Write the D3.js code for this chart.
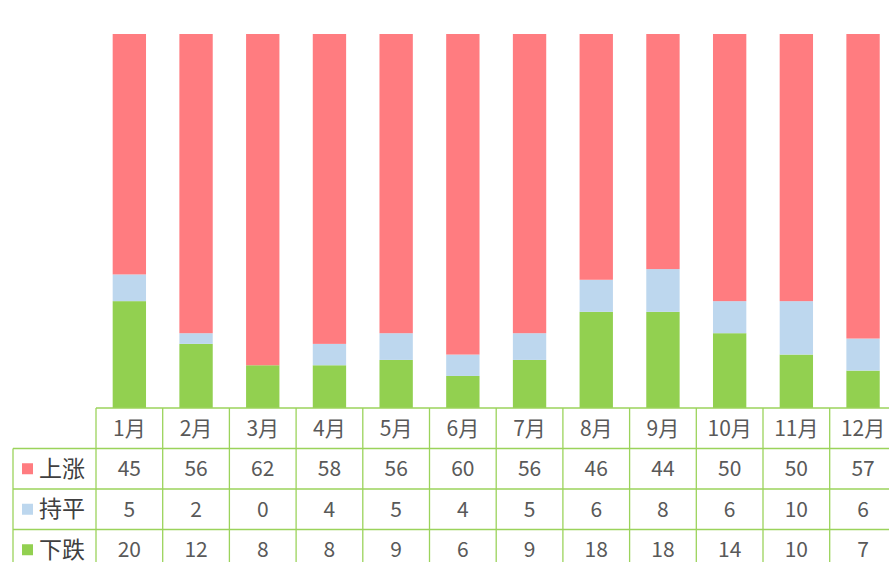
<!DOCTYPE html>
<html>
<head>
<meta charset="utf-8">
<script src="https://cdn.jsdelivr.net/npm/d3@7"></script>
<style>
  html, body { margin: 0; padding: 0; background: #fff; overflow: hidden; }
  svg { display: block; }
  text { font-family: "Noto Sans CJK SC", "Noto Sans", sans-serif; }
</style>
</head>
<body>
<svg id="chart"></svg>
<script>
// data
const months = ['1月','2月','3月','4月','5月','6月','7月','8月','9月','10月','11月','12月'];
const seriesNames = ['上涨', '持平', '下跌'];
const up   = [45, 56, 62, 58, 56, 60, 56, 46, 44, 50, 50, 57];
const flat = [5, 2, 0, 4, 5, 4, 5, 6, 8, 6, 10, 6];
const down = [20, 12, 8, 8, 9, 6, 9, 18, 18, 14, 10, 7];

const colors = {'上涨': '#FF7C80', '持平': '#BDD7EE', '下跌': '#92D050'};
const lineColor = '#9BD35B';

const width = 889, height = 562;
const margin = {top: 34, left: 96, tableTop: 408, legendLeft: 13};
const colW = 66.7;
const rowH = 40.5;

const svg = d3.select('#chart')
    .attr('width', width)
    .attr('height', height);

// build rows for stacking (bottom to top: 下跌, 持平, 上涨)
const table = months.map((m, i) => ({month: m, '上涨': up[i], '持平': flat[i], '下跌': down[i]}));

const stack = d3.stack()
    .keys(['下跌', '持平', '上涨'])
    .offset(d3.stackOffsetExpand);
const layers = stack(table);

const x = d3.scaleBand()
    .domain(months)
    .range([margin.left, margin.left + colW * months.length])
    .paddingInner(0.5)
    .paddingOuter(0.25);

const y = d3.scaleLinear()
    .domain([0, 1])
    .range([margin.tableTop, margin.top]);

// bars
svg.append('g')
  .selectAll('g')
  .data(layers)
  .join('g')
    .attr('fill', d => colors[d.key])
  .selectAll('rect')
  .data(d => d)
  .join('rect')
    .attr('x', d => x(d.data.month))
    .attr('y', d => y(d[1]))
    .attr('width', x.bandwidth())
    .attr('height', d => y(d[0]) - y(d[1]));

// data table
const colLeft = m => x(m) - x.step() * 0.25;
const rowY = d3.scaleBand()
    .domain(['header'].concat(seriesNames))
    .range([margin.tableTop, margin.tableTop + rowH * 4]);

const tbl = svg.append('g').attr('class', 'data-table');
const right = margin.left + colW * months.length;

// horizontal lines
tbl.append('line')
    .attr('x1', margin.left).attr('x2', right)
    .attr('y1', rowY('header')).attr('y2', rowY('header'));
seriesNames.forEach(s => {
  tbl.append('line')
      .attr('x1', margin.legendLeft).attr('x2', right)
      .attr('y1', rowY(s)).attr('y2', rowY(s));
});
// vertical lines
months.forEach(m => {
  tbl.append('line')
      .attr('x1', colLeft(m)).attr('x2', colLeft(m))
      .attr('y1', margin.tableTop).attr('y2', height);
});
tbl.append('line')
    .attr('x1', margin.legendLeft).attr('x2', margin.legendLeft)
    .attr('y1', rowY(seriesNames[0])).attr('y2', height);
tbl.selectAll('line')
    .attr('stroke', lineColor)
    .attr('stroke-width', 1.3);

const fs = 21;

// header labels
tbl.selectAll('text.month')
  .data(months)
  .join('text')
    .attr('class', 'month')
    .attr('x', m => x(m) + x.bandwidth() / 2)
    .attr('y', rowY('header') + rowY.bandwidth() / 2)
    .attr('dy', '0.35em')
    .attr('text-anchor', 'middle')
    .attr('font-size', fs)
    .attr('fill', '#595959')
    .text(m => m);

// series rows
const seriesValues = {'上涨': up, '持平': flat, '下跌': down};
seriesNames.forEach(s => {
  const cy = rowY(s) + rowY.bandwidth() / 2;
  tbl.append('rect')
      .attr('x', 22).attr('y', cy - 5.5)
      .attr('width', 11).attr('height', 11)
      .attr('fill', colors[s]);
  tbl.append('text')
      .attr('x', 39).attr('y', cy)
      .attr('dy', '0.35em')
      .attr('font-size', 23)
      .attr('fill', '#404040')
      .text(s);
  tbl.selectAll(null)
    .data(seriesValues[s])
    .join('text')
      .attr('x', (v, i) => x(months[i]) + x.bandwidth() / 2)
      .attr('y', cy)
      .attr('dy', '0.35em')
      .attr('text-anchor', 'middle')
      .attr('font-size', fs)
      .attr('fill', '#595959')
      .text(v => v);
});
</script>
</body>
</html>
